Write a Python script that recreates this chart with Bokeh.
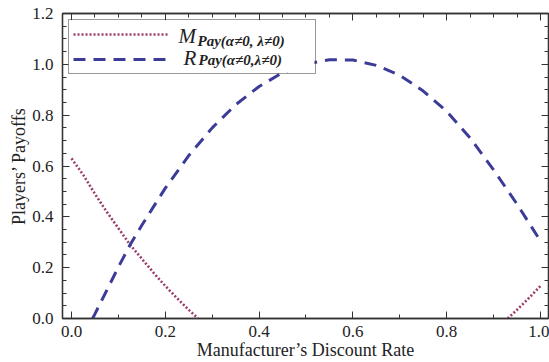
from bokeh.plotting import figure
from bokeh.models import (Range1d, LinearAxis, FixedTicker, Legend, LegendItem, Label,
                          PrintfTickFormatter, BoxAnnotation)
from bokeh.embed import file_html
from bokeh.resources import INLINE

# ---- data ----
m_x = [0.0, 0.025, 0.05, 0.075, 0.10, 0.125, 0.15, 0.175, 0.20, 0.225, 0.25, 0.27,
       float("nan"), 0.93, 0.95, 0.975, 1.0]
m_y = [0.63, 0.565, 0.49, 0.42, 0.355, 0.29, 0.235, 0.18, 0.128, 0.08, 0.034, 0.0,
       float("nan"), 0.0, 0.034, 0.08, 0.128]

r_x = [0.045, 0.05, 0.075, 0.10, 0.125, 0.15, 0.175, 0.20, 0.25, 0.30, 0.35, 0.40,
       0.45, 0.50, 0.55, 0.60, 0.65, 0.70, 0.75, 0.80, 0.85, 0.90, 0.95, 1.0]
r_y = [0.0, 0.018, 0.11, 0.2025, 0.29, 0.367, 0.44, 0.513, 0.641, 0.75, 0.841, 0.913,
       0.967, 1.002, 1.018, 1.017, 0.996, 0.957, 0.895, 0.815, 0.71, 0.585, 0.45, 0.305]

x_major = [0.0, 0.2, 0.4, 0.6, 0.8, 1.0]
x_minor_bottom = [0.1, 0.3, 0.5, 0.7, 0.9]
x_minor_top = [i * 0.05 for i in range(21)]
y_major = [0.0, 0.2, 0.4, 0.6, 0.8, 1.0, 1.2]
y_minor = [i * 0.05 for i in range(25)]

x_label = "Manufacturer\u2019s Discount Rate"
y_label = "Players\u2019 Payoffs"
m_name = ("M", "Pay(\u03b1\u22600, \u03bb\u22600)")
r_name = ("R", "Pay(\u03b1\u22600,\u03bb\u22600)")

M_COLOR = "#9B3B6C"
R_COLOR = "#3C3C98"
FONT = "Liberation Serif"
AX = "#333333"

p = figure(width=549, height=362, output_backend="svg", toolbar_location=None,
           x_range=Range1d(-0.0192, 1.0171), y_range=Range1d(0, 1.2),
           min_border_left=62, min_border_right=1, min_border_top=13, min_border_bottom=44,
           x_axis_location=None, y_axis_location=None)
p.grid.visible = False
p.outline_line_color = AX
p.outline_line_width = 1.3
p.background_fill_color = "white"
p.border_fill_color = "white"


def style(ax, labels=True):
    ax.axis_line_color = AX
    ax.axis_line_width = 1.3
    ax.major_tick_line_color = AX
    ax.minor_tick_line_color = AX
    ax.major_tick_in = 7
    ax.major_tick_out = 0
    ax.minor_tick_in = 4
    ax.minor_tick_out = 0
    if labels:
        ax.formatter = PrintfTickFormatter(format="%.1f")
        ax.major_label_text_font = FONT
        ax.major_label_text_font_size = "17px"
        ax.major_label_text_color = "#222222"
        ax.axis_label_text_font = FONT
        ax.axis_label_text_font_size = "18px"
        ax.axis_label_text_font_style = "normal"
        ax.axis_label_text_color = "#222222"
    else:
        ax.major_label_overrides = {t: "" for t in ax.ticker.ticks}
        ax.major_label_standoff = 0


bottom = LinearAxis(ticker=FixedTicker(ticks=x_major, minor_ticks=x_minor_bottom),
                    axis_label=x_label)
style(bottom)
bottom.major_label_standoff = 7
bottom.axis_label_standoff = 0
p.add_layout(bottom, "below")

left = LinearAxis(ticker=FixedTicker(ticks=y_major, minor_ticks=y_minor), axis_label=y_label)
style(left)
left.major_label_standoff = 9
left.axis_label_standoff = 0
p.add_layout(left, "left")

top = LinearAxis(ticker=FixedTicker(ticks=x_major, minor_ticks=x_minor_top))
style(top, labels=False)
p.add_layout(top, "above")

right = LinearAxis(ticker=FixedTicker(ticks=y_major, minor_ticks=y_minor))
style(right, labels=False)
p.add_layout(right, "right")

m_line = p.line(m_x, m_y, line_color=M_COLOR, line_width=2.6, line_dash="2 2")
r_line = p.line(r_x, r_y, line_color=R_COLOR, line_width=3, line_dash="12 8")

# white backing for the legend panel
p.add_layout(BoxAnnotation(left=-0.0064, right=0.518, bottom=0.9685, top=1.173,
                           fill_color="white", fill_alpha=1, line_alpha=0))

legend = Legend(items=[LegendItem(label=" ", renderers=[m_line]),
                       LegendItem(label=" ", renderers=[r_line])],
                location="top_left", margin=6, padding=4, spacing=5,
                glyph_width=95, glyph_height=20, label_width=135, label_standoff=8,
                border_line_color=AX, border_line_width=1.6,
                background_fill_alpha=0,
                label_text_font_size="10px")
p.add_layout(legend)

# legend texts (main letter + subscript)
for x, y, txt, size, style_ in [
    (0.2281, 1.1102, m_name[0], "21px", "italic"),
    (0.2687, 1.0906, m_name[1], "15px", "bold italic"),
    (0.2388, 1.0236, r_name[0], "21px", "italic"),
    (0.2708, 1.0157, r_name[1], "15px", "bold italic"),
]:
    p.add_layout(Label(x=x, y=y, text=txt, text_font=FONT, text_font_size=size,
                       text_font_style=style_, text_color="#222222",
                       text_baseline="alphabetic", level="overlay"))

open("out.html", "w").write(file_html(p, INLINE))
